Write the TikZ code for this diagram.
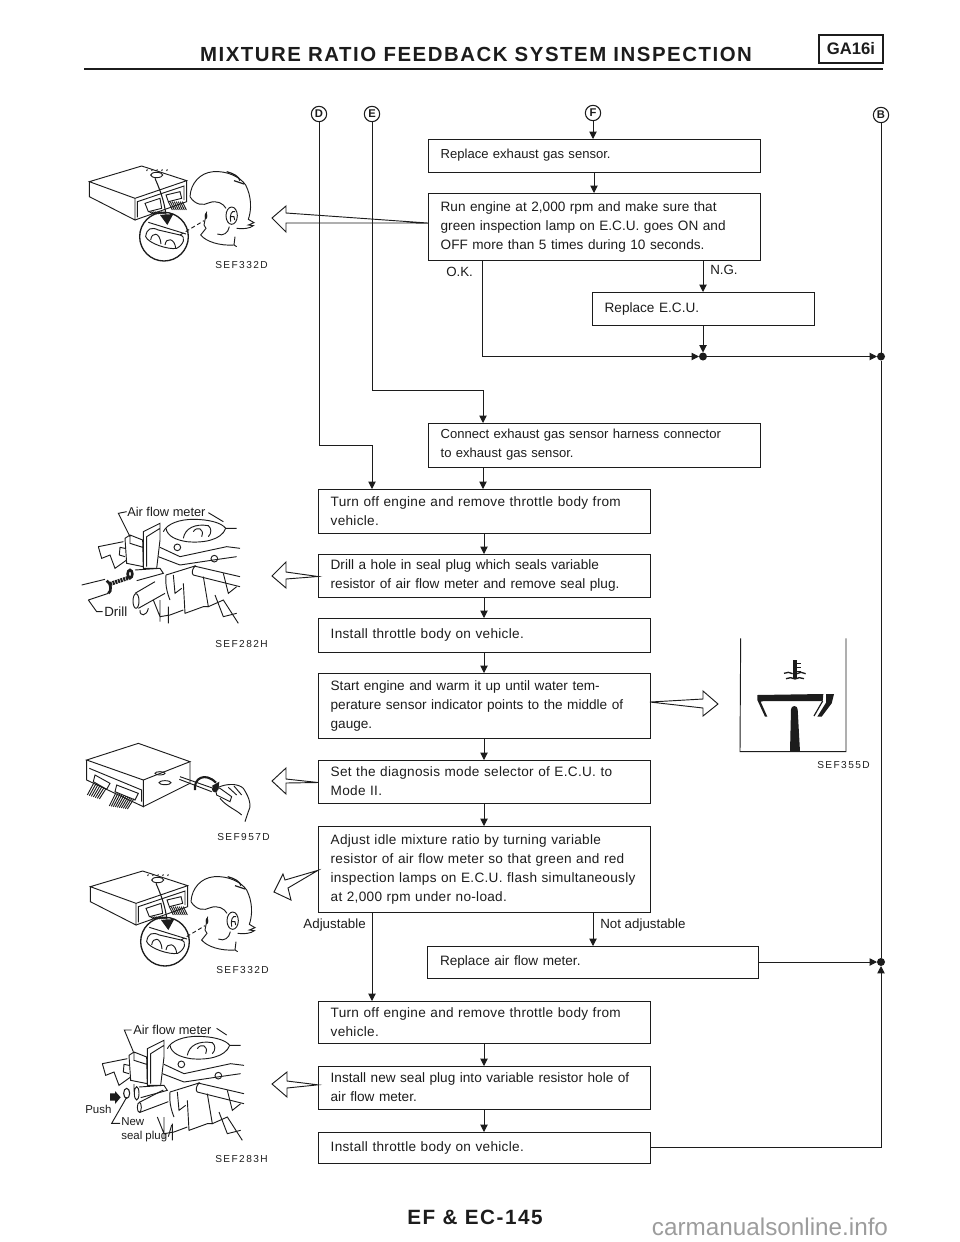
\documentclass[tikz,border=0pt]{standalone}
\usepackage{fontspec}
\setmainfont{Liberation Sans}
\newfontfamily\codefont[LetterSpace=14]{Liberation Sans}
\newfontfamily\titlefont[LetterSpace=7.5]{Liberation Sans}
\newfontfamily\widefont[LetterSpace=2.2]{Liberation Sans}
\usetikzlibrary{arrows.meta,positioning,calc}
\definecolor{inkblack}{HTML}{1C1C1C}
\definecolor{markgrey}{HTML}{9C9C9C}
\tikzset{
  stepbox/.style={rectangle, draw=inkblack, line width=0.7pt, align=left, text=inkblack,
                  font=\fontsize{10.2}{14.25}\selectfont, inner xsep=9.5pt, inner ysep=0pt, outer sep=0pt},
  widebox/.style={stepbox, font=\fontsize{10.2}{14.25}\widefont},
  tightbox/.style={stepbox, font=\fontsize{9.8}{14.25}\selectfont},
  arr/.style={-{Triangle[length=5.5pt,width=5.5pt]}, line width=0.7pt, draw=inkblack},
  link/.style={line width=0.7pt, draw=inkblack},
  hollow/.style={line width=0.7pt, draw=inkblack, line join=miter},
  junction/.style={circle, fill=inkblack, inner sep=0pt, minimum size=6pt, outer sep=0pt},
  letter/.style={circle, draw=inkblack, line width=0.8pt, inner sep=0pt, minimum size=11.5pt,
                 font=\fontsize{8.4}{8.4}\selectfont\bfseries, text=inkblack},
  tag/.style={inner sep=0pt, text=inkblack, font=\fontsize{10}{12}\selectfont},
  smalltag/.style={inner sep=0pt, text=inkblack, align=left, font=\fontsize{8.6}{11}\selectfont},
  code/.style={inner sep=0pt, text=inkblack, font=\fontsize{7.6}{8}\codefont},
  zoomgrid/.style={x=.25pt, y=-.25pt, line width=0.7pt, draw=inkblack},
  ecuhead/.pic={
    \begin{scope}[zoomgrid]
      \draw (28,365)--(185,318)--(320,362)--(165,415)--cycle;
      \draw (28,365)--(28,410)--(165,480)--(165,415);
      \draw (165,480)--(320,425)--(320,362);
      \draw (172,472)--(172,425)--(312,378)--(312,420);
      \draw (195,430)--(240,415)--(245,445)--(205,455)--cycle;
      \draw (258,405)--(300,395)--(305,415)--(265,425)--cycle;
      \foreach \w in {0,6,...,36} \draw (208+\w,455)--(218+\w,462);
      \foreach \w in {0,6,...,42} \draw (265+\w,425)--(277+\w,450);
      \draw (230,345) ellipse (18 and 8);
      \foreach \w in {200,215,230,245,260} \draw (\w,333)--(\w+2,328);
      \draw[line width=0.8pt] (225,355) .. controls (240,390) and (252,420) .. (258,465);
      \fill[inkblack] (240,465)--(280,462)--(262,495)--cycle;
      \draw[line width=1pt] (252,530) circle (73);
      \draw (205,487)--(318,522);
      \draw (197,530) .. controls (200,505) and (215,500) .. (235,510) -- (300,525)
        .. controls (320,530) and (310,555) .. (290,565) .. controls (265,570) and (205,550) .. cycle;
      \draw (212,540) .. controls (215,515) and (240,515) .. (243,552);
      \draw (255,555) .. controls (258,530) and (285,535) .. (287,565);
      \draw[densely dashed] (300,525)--(372,482);
      \fill[inkblack] (378,468) ellipse (4 and 9);
      % head
      \draw (330,410) .. controls (332,370) and (360,338) .. (400,335) .. controls (440,332) and (480,350) .. (497,375)
        .. controls (515,410) and (515,450) .. (505,478) -- (522,488) -- (505,495) -- (520,497)
        .. controls (510,505) and (490,508) .. (470,505);
      \draw (330,410) .. controls (345,435) and (370,438) .. (388,428) .. controls (410,420) and (430,430) .. (438,445);
      \draw (455,467) ellipse (17 and 26);
      \draw (452,485) .. controls (448,465) and (455,450) .. (465,455) (450,470)--(462,470)--(464,480);
      \draw (380,455) -- (372,495) -- (378,505) -- (362,525) .. controls (378,545) and (420,558) .. (462,555) -- (470,560);
      \draw (465,530)--(462,555);
      \draw (412,522) .. controls (430,530) and (445,518) .. (448,500);
      \draw[line width=0.9pt] (440,335) .. controls (460,340) and (478,350) .. (480,362);
      \draw[line width=0.9pt] (462,362)--(492,372);
    \end{scope}
  },
  engine/.pic={
    \begin{scope}[zoomgrid]
      \draw (250,215) .. controls (262,190) and (300,178) .. (340,178) .. controls (385,178) and (425,188) .. (437,205) -- (470,205);
      \draw (437,205) .. controls (425,240) and (370,250) .. (320,245) .. controls (290,240) and (262,230) .. (258,205);
      \draw (310,235) .. controls (315,205) and (345,190) .. (385,197) .. controls (395,205) and (395,220) .. (385,230);
      \draw (340,215) .. controls (350,198) and (375,205) .. (365,230);
      \draw (292,262) circle (10) (403,296) circle (10);
      \draw (240,262)--(300,290)--(440,260)--(480,265);
      \draw (235,290)--(300,315)--(400,300)--(470,290);
      % hose
      \draw (258,345)--(345,318) .. controls (335,330) and (335,340) .. (340,345)--(480,380);
      \draw (342,318)--(480,350);
      \draw (258,345) .. controls (255,375) and (262,400) .. (270,420) (280,345)--(285,400)--(305,385);
      \draw (220,420)--(240,470)--(270,465)--(310,450) (240,420)--(240,485) (265,440)--(265,490);
      \draw (310,370)--(315,460)--(370,440)--(385,440) (370,350)--(385,440)--(430,420)--(475,490);
      \draw (430,340)--(445,400)--(470,380) (405,405)--(430,470)--(470,460);
      % meter
      \draw (135,235)--(150,225)--(188,240)--(190,320)--(140,310)--cycle (150,225)--(150,250)--(188,262);
      \draw (55,260)--(130,245) (55,260)--(65,295)--(90,285)--(105,325)--(140,300);
      \draw (135,265)--(120,262)--(118,285)--(135,290);
      \draw (190,215)--(240,190)--(240,240)--(230,325)--(190,325)--cycle (200,230)--(200,320) (200,230)--(240,205);
      \draw (165,330)--(240,325)--(250,340)--(170,362);
    \end{scope}
  },
}

\begin{document}
\begin{tikzpicture}[x=0.75pt, y=-0.75pt, node distance=15.75pt]
  \useasboundingbox (0,0) rectangle (960,1242);

  % title and page number
  \node[inner sep=0pt, text=inkblack, font=\fontsize{15.3}{18}\titlefont\bfseries] (title) at (476,54)
    {MIXTURE RATIO FEEDBACK SYSTEM INSPECTION};
  \node[draw=inkblack, line width=0.8pt, minimum width=48pt, minimum height=21pt, inner sep=0pt, outer sep=0pt,
        text=inkblack, font=\fontsize{12.5}{14}\selectfont\bfseries] (model) at (851,49) {GA16i};
  \coordinate (ruleL) at (84,69);
  \coordinate (ruleR) at (883,69);
  \draw[line width=2.2pt, draw=inkblack] (ruleL) -- (ruleR);
  \node[inner sep=0pt, text=inkblack, font=\fontsize{15.5}{18}\titlefont\bfseries] (page) at (475,1217) {EF \& EC-145};
  \node[inner sep=0pt, text=markgrey, font=\fontsize{18.2}{20}\selectfont] (mark) at (770,1227) {carmanualsonline.info};

  \node[letter] (D) at (319,114) {D};
  \node[letter] (E) at (372,114) {E};
  \node[letter] (F) at (593,113) {F};
  \node[letter] (B) at (881,115) {B};

  % upper part
  \node[tightbox, text width=230pt, minimum height=24.75pt, anchor=north] (gas) at (594,139) {Replace exhaust gas sensor.};
  \node[stepbox, text width=230pt, minimum height=50.25pt, below=of gas] (run)
    {Run engine at 2,000 rpm and make sure that\\green inspection lamp on E.C.U. goes ON and\\OFF more than 5 times during 10 seconds.};
  \node[stepbox, text width=147.5pt, minimum height=24.75pt, anchor=north] (ecu) at (703,292) {Replace E.C.U.};
  \node[tightbox, text width=230pt, minimum height=33pt, anchor=north] (conn) at (594,423)
    {Connect exhaust gas sensor harness connector\\to exhaust gas sensor.};

  % main column
  \node[widebox, text width=230pt, minimum height=33pt, anchor=north] (turnA) at (484,489)
    {Turn off engine and remove throttle body from\\vehicle.};
  \node[stepbox, text width=230pt, minimum height=32.25pt, below=of turnA] (drill)
    {Drill a hole in seal plug which seals variable\\resistor of air flow meter and remove seal plug.};
  \node[widebox, text width=230pt, minimum height=25.5pt, below=of drill] (bodyA) {Install throttle body on vehicle.};
  \node[stepbox, text width=230pt, minimum height=48.75pt, below=of bodyA] (warm)
    {Start engine and warm it up until water tem-\\perature sensor indicator points to the middle of\\gauge.};
  \node[widebox, text width=230pt, minimum height=32.25pt, below=16.5pt of warm] (mode)
    {Set the diagnosis mode selector of E.C.U. to\\Mode II.};
  \node[widebox, text width=230pt, minimum height=64.5pt, below=17.25pt of mode] (adjust)
    {Adjust idle mixture ratio by turning variable\\resistor of air flow meter so that green and red\\inspection lamps on E.C.U. flash simultaneously\\at 2,000 rpm under no-load.};
  \node[stepbox, text width=229.5pt, minimum height=24pt, anchor=north] (meter) at (593,946) {Replace air flow meter.};
  \node[widebox, text width=230pt, minimum height=31.5pt, below=66.75pt of adjust] (turnB)
    {Turn off engine and remove throttle body from\\vehicle.};
  \node[stepbox, text width=230pt, minimum height=32.25pt, below=17.25pt of turnB] (seal)
    {Install new seal plug into variable resistor hole of\\air flow meter.};
  \node[widebox, text width=230pt, minimum height=23.25pt, below=17.25pt of seal] (bodyB) {Install throttle body on vehicle.};

  \node[tag, anchor=west] (ok) at (446,272) {O.K.};
  \node[tag, anchor=west] (ng) at (710,270) {N.G.};
  \node[tag, anchor=east] (yes) at (366,925) {Adjustable};
  \node[tag, anchor=west] (no) at (600,925) {Not adjustable};

  \node[junction] (joinA) at (703,356.5) {};
  \node[junction] (joinB) at (881,356.5) {};
  \node[junction] (joinC) at (881,962) {};
  \coordinate (bendD) at (372,445);
  \coordinate (bendE) at (483,390);
  \coordinate (okx) at (482,260);
  \coordinate (yesx) at (372,912);

  \draw[arr] (F) -- (gas.north -| F);
  \draw[arr] (gas) -- (run);
  \draw[arr] (run.south -| ecu) -- (ecu);
  \draw[arr] (ecu) -- (joinA);
  \draw[arr] (okx) |- (joinA);
  \draw[arr] (joinA) -- (joinB);
  \draw[link] (B) -- (joinB) -- (joinC);
  \draw[arr] (D) |- (bendD) -- (turnA.north -| bendD);
  \draw[arr] (E) |- (bendE) -- (conn.north -| bendE);
  \draw[arr] (conn.south -| bendE) -- (turnA.north -| bendE);
  \draw[arr] (turnA) -- (drill);
  \draw[arr] (drill) -- (bodyA);
  \draw[arr] (bodyA) -- (warm);
  \draw[arr] (warm) -- (mode);
  \draw[arr] (mode) -- (adjust);
  \draw[arr] (yesx) -- (turnB.north -| yesx);
  \draw[arr] (adjust.south -| meter) -- (meter);
  \draw[arr] (meter) -- (joinC);
  \draw[arr] (turnB) -- (seal);
  \draw[arr] (seal) -- (bodyB);
  \draw[arr] (bodyB) -| (joinC);

  % hollow arrows
  \draw[hollow] ([yshift=2.6pt]run.west) -- (286,213) -- (286,206) -- (272,218) -- (286,232) -- (286,223) -- cycle;
  \draw[hollow] ([yshift=-.75pt]drill.west) -- (286,572) -- (286,562) -- (272,576) -- (286,588) -- (286,579) -- cycle;
  \draw[hollow] ([yshift=2.6pt]warm.east) -- (703,699) -- (703,691) -- (718,704) -- (703,716) -- (703,708) -- cycle;
  \draw[hollow] ([yshift=-.75pt]mode.west) -- (286,779) -- (286,768) -- (272,781) -- (286,794) -- (286,783) -- cycle;
  \draw[hollow] ([yshift=-1pt]adjust.west) -- (285,880) -- (283,874) -- (274,892) -- (291,900) -- (288,888) -- cycle;
  \draw[hollow] ([yshift=2pt]seal.west) -- (287,1081) -- (287,1072) -- (272,1084) -- (287,1097) -- (287,1088) -- cycle;

  % pictures
  \pic at (80,60) {ecuhead};
  \node[code, anchor=west] (codeA) at (215,265) {SEF332D};
  \pic at (81,765) {ecuhead};
  \node[code, anchor=west] (codeB) at (216,970) {SEF332D};

  \pic at (80,460) {engine};
  \node[tag, anchor=west, font=\fontsize{9.6}{11}\selectfont] (flowA) at (127,512) {Air flow meter};
  \node[tag, anchor=west] (drillT) at (104,612) {Drill};
  \begin{scope}[shift={(80,460)}, zoomgrid]
    \draw (140,155)--(115,160)--(150,230) (385,158)--(430,185);
    \draw (5,375)--(75,358) (25,420)--(85,400) (25,420)--(50,455)--(68,455);
    \draw[line width=2pt] (80,362) .. controls (95,370) and (95,395) .. (85,400);
    \draw[line width=3pt, dash pattern=on 1.5pt off .6pt] (90,372)--(150,352);
    \draw[line width=2pt] (150,342) ellipse (7 and 12);
    \draw (165,400)--(225,365) (175,445)--(255,400);
    \draw (168,423) ellipse (9 and 22);
    \draw (180,450) .. controls (178,470) and (200,470) .. (205,445);
  \end{scope}
  \node[code, anchor=west] (codeC) at (215,644) {SEF282H};

  \pic at (84,977) {engine};
  \node[tag, anchor=west, font=\fontsize{9.6}{11}\selectfont] (flowB) at (133,1030) {Air flow meter};
  \node[smalltag, anchor=west] (push) at (85,1109) {Push};
  \node[smalltag, anchor=north west] (plug) at (121,1117) {New\\seal plug};
  \begin{scope}[shift={(80,980)}, zoomgrid]
    \draw (155,150)--(133,150)--(160,215) (410,145)--(440,165);
    \fill[inkblack] (90,340)--(105,340)--(105,333)--(122,352)--(105,372)--(105,362)--(90,362)--cycle;
    \draw[line width=.8pt] (140,340) ellipse (9 and 15);
    \draw (140,352)--(95,430)--(120,430) (265,470)--(275,435);
    \draw (178,367)--(250,330) (180,397)--(265,365);
    \draw (178,382) ellipse (6 and 15);
    \draw (162,312)--(162,335) (170,340) ellipse (7 and 20);
  \end{scope}
  \node[code, anchor=west] (codeD) at (215,1159) {SEF283H};

  % screwdriver and E.C.U.
  \begin{scope}[shift={(80,700)}, zoomgrid]
    \draw (20,180)--(175,130)--(330,185)--(190,240)--cycle;
    \draw (20,180)--(20,240)--(190,320)--(190,240);
    \draw (190,320)--(330,250)--(330,185);
    \draw (28,205)--(185,270)--(185,305);
    \draw (45,225)--(90,250)--(80,268)--(40,245)--cycle (110,255)--(175,280)--(165,300)--(105,275)--cycle;
    \foreach \w in {0,6,...,36} \draw (42+\w,248+\w/2)--(22+\w,285+\w/3);
    \foreach \w in {0,6,...,54} \draw (108+\w,278+\w/3)--(88+\w,318+\w/6);
    \draw (240,220) ellipse (15 and 5) (255,248) ellipse (18 and 6);
    \draw (300,230)--(400,265) (298,238)--(395,275);
    \draw[line width=1.6pt] (345,270) .. controls (340,235) and (375,215) .. (408,248);
    \fill[inkblack] (395,258)--(418,245)--(415,270)--cycle;
    \fill[inkblack] (405,268) circle (9);
    \draw (405,262)--(420,265)--(455,290)--(450,305)--(410,285)--cycle;
    \draw (415,262) .. controls (440,250) and (475,250) .. (490,265) .. controls (510,295) and (515,320) .. (505,335) -- (495,365);
    \draw (420,295) .. controls (440,320) and (470,330) .. (485,345);
    \draw (445,262)--(470,285) (462,258)--(485,285);
  \end{scope}
  \node[code, anchor=west] (codeE) at (217,837) {SEF957D};

  % gauge
  \begin{scope}[shift={(640,620)}, zoomgrid]
    \draw[line width=.7pt] (302,55)--(300,395)--(618,395)--(618,55);
    \fill[inkblack] (459,120)--(470,120)--(470,175)--(459,175)--cycle;
    \foreach \w in {130,142,154} \draw[line width=.8pt] (470,\w)--(482,\w);
    \draw[line width=1pt] (432,160)--(445,157)--(458,161) (470,161)--(483,157)--(497,161);
    \draw[line width=1pt] (438,176)--(452,173)--(465,177)--(478,173)--(492,176);
    \fill[inkblack] (352,225)--(550,222)--(548,243)--(372,243)--(362,245)--(382,290)--(375,290)--(352,240)--cycle;
    \fill[inkblack] (558,222)--(582,222)--(575,250)--(545,290)--(532,290)--(558,248)--cycle;
    \draw[line width=.9pt] (548,243)--(522,288);
    \fill[inkblack] (450,395)--(453,268) arc[start angle=180, end angle=360, x radius=10, y radius=10]--(480,395)--cycle;
  \end{scope}
  \node[code, anchor=west] (codeF) at (817,765) {SEF355D};
\end{tikzpicture}
\end{document}
